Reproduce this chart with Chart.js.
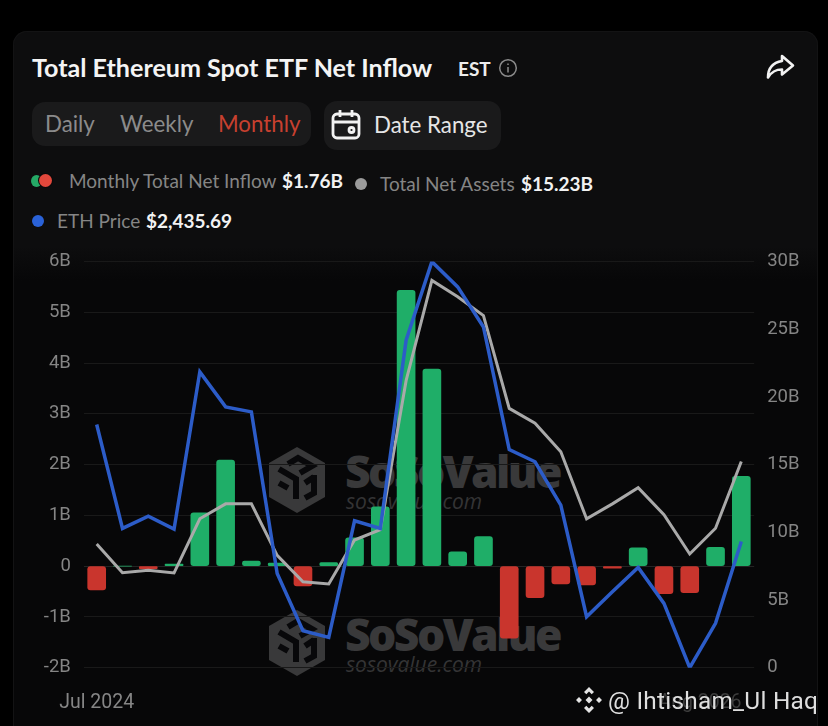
<!DOCTYPE html>
<html><head><meta charset="utf-8">
<script src="https://cdn.jsdelivr.net/npm/chart.js@4"></script>
<style>
html,body{margin:0;padding:0;background:#000;width:828px;height:726px;overflow:hidden}
#card{position:absolute;left:13px;top:31px;width:805px;height:720px;background:linear-gradient(#0d0d0e 0,#0d0d0e 215px,#070708 250px);border-radius:14px;box-shadow:inset 0 0 0 1px #131314}
.t{position:absolute;white-space:nowrap;font-family:Lato,sans-serif;line-height:1;transform:translateY(-50%)}
.pill{position:absolute;background:#1a1a1b;border-radius:13px}
.dot{position:absolute;border-radius:50%}
canvas{position:absolute;left:0;top:0}
.wm1{color:#39393a;font:800 44.500px "Open Sans",sans-serif;letter-spacing:-2.600px}
.wm2{color:#343435;font:italic 400 21px "Open Sans",sans-serif}
svg{position:absolute}
</style></head><body>
<div id="card"></div>

<div class="t" style="left:32px;top:68px;font-size:25.100px;font-weight:700;color:#f4f4f4">Total Ethereum Spot ETF Net Inflow</div>
<div class="t" style="left:458px;top:68px;font-size:19px;font-weight:700;color:#ededed">EST</div>
<svg style="left:498px;top:58px" width="20" height="20" viewBox="0 0 20 20" fill="none" stroke="#8a8a8a" stroke-width="1.5"><circle cx="10" cy="10" r="8.300"/><path d="M10 9v5.500M10 5.500v1.500"/></svg>
<svg style="left:765px;top:53px" width="30" height="28" viewBox="0 0 30 28" fill="none" stroke="#f2f2f2" stroke-width="2.600" stroke-linejoin="round"><path d="M17 3l11 9.500-11 9v-5c-6 0-10 1.500-14 8 0-9 5-15 14-16.500z"/></svg>

<div class="pill" style="left:32px;top:102px;width:279px;height:44px"></div>
<div class="t" style="left:45px;top:124px;font-size:22.300px;color:#8b8b8b">Daily</div>
<div class="t" style="left:120px;top:124px;font-size:22.300px;color:#8b8b8b">Weekly</div>
<div class="t" style="left:218px;top:124px;font-size:22.300px;color:#c8402f">Monthly</div>
<div class="pill" style="left:324px;top:101px;width:177px;height:49px"></div>
<svg style="left:331px;top:109px" width="30" height="32" viewBox="0 0 30 32" fill="none" stroke="#f2f2f2" stroke-width="2.800"><rect x="2" y="5" width="26" height="24" rx="4"/><path d="M2 13h26M9 1v7M21 1v7"/><circle cx="20.500" cy="21" r="2.500"/></svg>
<div class="t" style="left:374px;top:125px;font-size:22.300px;color:#e6e6e6">Date Range</div>

<div class="dot" style="left:31px;top:175px;width:11px;height:12px;background:#25a866"></div>
<div class="dot" style="left:39px;top:174px;width:13px;height:13px;background:#e2483c;box-shadow:0 0 0 1px #0a0a0b"></div>
<div class="t" style="left:69px;top:180px;font-size:19px;color:#858585">Monthly Total Net Inflow</div>
<div class="t" style="left:282px;top:180px;font-size:19px;font-weight:700;color:#f2f2f2">$1.76B</div>
<div class="dot" style="left:355px;top:178px;width:12px;height:12px;background:#9b9b9b"></div>
<div class="t" style="left:380px;top:183px;font-size:19px;color:#858585">Total Net Assets</div>
<div class="t" style="left:521px;top:183px;font-size:19px;font-weight:700;color:#f2f2f2">$15.23B</div>
<div class="dot" style="left:32px;top:215px;width:12px;height:12px;background:#2a62d8"></div>
<div class="t" style="left:57px;top:220px;font-size:19px;color:#858585">ETH Price</div>
<div class="t" style="left:146px;top:220px;font-size:19px;font-weight:700;color:#f2f2f2">$2,435.69</div>

<svg style="left:268px;top:447px" width="58" height="66" viewBox="0 0 58 66"><path fill="#39393a" d="M29 0l28 16v34L29 66 1 50V16z"/><path fill="none" stroke="#08080a" stroke-width="6" d="M11 22l17 10v20M20 17l10-6 14 8-12 7M46 28v18l-9 5M37 36l9-6M20 41l-9-5"/></svg>
<div class="t wm1" style="left:345px;top:470px">SoSoValue</div>
<div class="t wm2" style="left:346px;top:501px">sosovalue.com</div>
<svg style="left:268px;top:610px" width="58" height="66" viewBox="0 0 58 66"><path fill="#39393a" d="M29 0l28 16v34L29 66 1 50V16z"/><path fill="none" stroke="#08080a" stroke-width="6" d="M11 22l17 10v20M20 17l10-6 14 8-12 7M46 28v18l-9 5M37 36l9-6M20 41l-9-5"/></svg>
<div class="t wm1" style="left:345px;top:633px">SoSoValue</div>
<div class="t wm2" style="left:346px;top:664px">sosovalue.com</div>

<canvas id="c" width="828" height="726"></canvas>

<svg style="left:575px;top:686px" width="28" height="28" viewBox="0 0 28 28" fill="#e4e4e4"><path d="M14 1l5 5-2.300 2.300L14 5.600l-2.700 2.700L9 6zM14 27l-5-5 2.300-2.300 2.700 2.700 2.700-2.700L19 22zM1 14l3-3 3 3-3 3zM21 14l3-3 3 3-3 3zM14 10.500l3.500 3.500-3.500 3.500-3.500-3.500z"/></svg>
<div class="t" style="left:608px;top:700px;font:400 24.400px Roboto,sans-serif;color:#dedede;letter-spacing:.25px">@ Ihtisham_Ul Haq</div>

<script>
const categories = ["Jul 2024","Aug 2024","Sep 2024","Oct 2024","Nov 2024","Dec 2024","Jan 2025","Feb 2025","Mar 2025","Apr 2025","May 2025","Jun 2025","Jul 2025","Aug 2025","Sep 2025","Oct 2025","Nov 2025","Dec 2025","Jan 2026","Feb 2026","Mar 2026","Apr 2026","May 2026","Jun 2026","Jul 2026","Aug 2026"];
const netInflow = [-0.47,0,-0.05,0.04,1.05,2.09,0.1,0.06,-0.39,0.07,0.56,1.17,5.43,3.88,0.28,0.58,-1.42,-0.62,-0.35,-0.37,-0.04,0.36,-0.54,-0.52,0.37,1.77];
const netAssets = [9.13,7.01,7.2,7.0,11.0,12.1,12.1,8.3,6.35,6.18,9.43,10.2,21.2,28.6,27.4,26.0,19.15,18.05,15.95,11.0,12.1,13.3,11.3,8.4,10.3,15.23];
const ethPrice = [3303,2514,2607,2508,3703,3437,3399,2172,1737,1686,2572,2514,3943,4540,4348,4044,3113,3020,2691,1843,2033,2218,1944,1456,1793,2415];
const xTickLabels = ["Jul 2024","Aug 2026"];

const tickFont = {family:"Roboto, sans-serif", size:18.5};
const xTickFont = {family:"Roboto, sans-serif", size:19.5};
const tickColor = "#858585";
const fmt = v => v === 0 ? "0" : v + "B";

new Chart(document.getElementById("c"), {
  data: {
    labels: categories,
    datasets: [
      {type:"line", label:"ETH Price", data:ethPrice, yAxisID:"yPrice", borderColor:"#2c5cc8", borderWidth:3.5, pointRadius:0, tension:0, order:0},
      {type:"line", label:"Total Net Assets", data:netAssets, yAxisID:"yAssets", borderColor:"#a9a9a9", borderWidth:3, pointRadius:0, tension:0, order:1},
      {type:"bar", label:"Monthly Total Net Inflow", data:netInflow, yAxisID:"yFlow", barThickness:18, borderRadius:3, borderSkipped:false,
       backgroundColor: c => c.raw >= 0 ? "#1fae68" : "#c9352d", order:2}
    ]
  },
  options: {
    responsive:false, animation:false, devicePixelRatio:1,
    layout:{padding:{top:261.5,left:0,right:0,bottom:0}},
    plugins:{legend:{display:false},tooltip:{enabled:false}},
    scales:{
      x:{
        offset:true,
        grid:{display:false}, border:{display:false},
        afterBuildTicks: s => { s.ticks = [{value:0},{value:23.4}]; },
        afterFit: s => { s.height = 58.3; },
        ticks:{autoSkip:false, maxRotation:0, padding:16, font:xTickFont,
          color: c => c.index === 0 ? tickColor : "#3c3c3c",
          callback:(v,i) => xTickLabels[i]}
      },
      yFlow:{
        position:"left", min:-2, max:6,
        afterFit: s => { s.width = 83.8; },
        grid:{color: c => c.tick.value === 0 ? "#242424" : "#191919", drawTicks:false, lineWidth:1},
        border:{display:false},
        ticks:{stepSize:1, padding:13, font:tickFont, color:tickColor, callback:fmt}
      },
      yAssets:{
        position:"right", min:0, max:30,
        afterFit: s => { s.width = 73.8; },
        grid:{display:false, drawTicks:false}, border:{display:false},
        ticks:{stepSize:5, padding:13, font:tickFont, color:tickColor, callback:fmt}
      },
      yPrice:{display:false, min:1456, max:4541}
    }
  }
});
</script>
</body></html>
